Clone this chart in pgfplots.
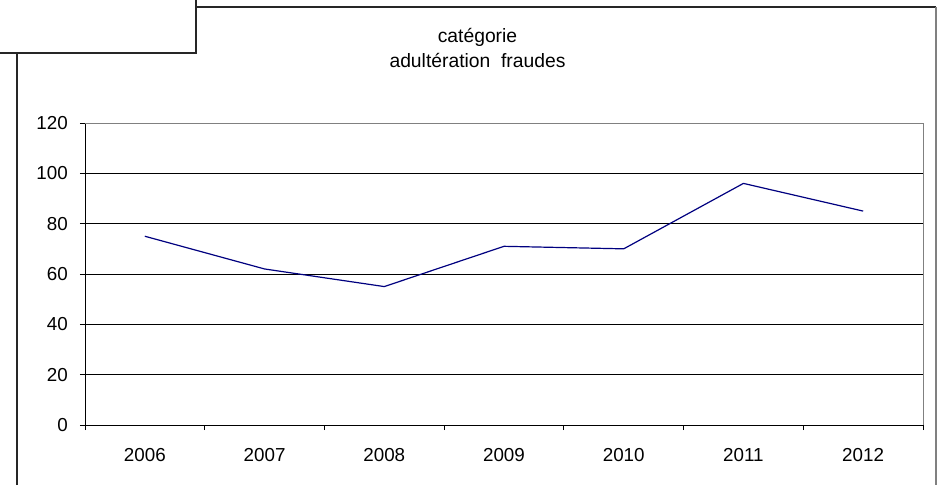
\documentclass[border=0pt]{standalone}
\usepackage{pgfplots}
\pgfplotsset{compat=1.18}
\usepackage{fontspec}
\setmainfont{Liberation Sans}
\definecolor{navyline}{RGB}{0,0,128}
\begin{document}
\begin{tikzpicture}[x=1pt,y=1pt]
\useasboundingbox (0,0) rectangle (937,485);
\fill[white] (0,0) rectangle (937,485);
\draw[line width=1.6pt, black!85] (17,0) -- (17,432);
\draw[line width=1.6pt, black!85] (196,478) -- (936,478);
\draw[line width=1.6pt, gray] (936,478) -- (936,0);
\draw[line width=1.6pt, black!85] (0,432) -- (196,432) -- (196,485);
\node[anchor=base, font=\fontsize{19.3}{23}\selectfont, inner sep=0pt] at (477.5,442) {catégorie};
\node[anchor=base, font=\fontsize{19.3}{23}\selectfont, inner sep=0pt] at (477.5,417) {adultération\ \ fraudes};
\begin{axis}[
  at={(85pt,60pt)}, anchor=south west, scale only axis,
  width=838pt, height=302pt,
  xmin=-0.5, xmax=6.5, ymin=0, ymax=120,
  ytick={0,20,...,120},
  xtick={-0.5,0.5,...,6.5}, xticklabels={},
  extra x ticks={0,1,2,3,4,5,6},
  extra x tick labels={2006,2007,2008,2009,2010,2011,2012},
  extra x tick style={major tick length=0pt, grid=none},
  axis x line*=bottom, axis y line*=left,
  axis line style={black, line width=0.9pt},
  tick align=outside, major tick length=5pt,
  every tick/.style={black, line width=0.9pt},
  ymajorgrids, major grid style={black, line width=0.9pt},
  /pgf/number format/assume math mode=true,
  tick label style={font=\fontsize{18.8}{22}\selectfont, inner sep=0pt},
  yticklabel style={anchor=east, xshift=-12pt},
  xticklabel style={anchor=north, yshift=-23pt},
  clip=false,
]
\addplot[navyline, line width=1.2pt] coordinates {(0,75) (1,62) (2,55) (3,71) (4,70) (5,96) (6,85)};
\draw[gray, line width=0.9pt] (rel axis cs:0,1) -- (rel axis cs:1,1) -- (rel axis cs:1,0);
\end{axis}
\end{tikzpicture}
\end{document}
